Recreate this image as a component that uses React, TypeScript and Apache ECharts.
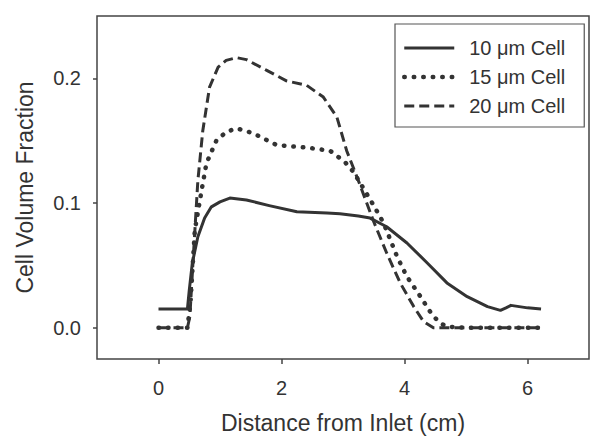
import React, { useEffect, useRef } from "react";
import * as echarts from "echarts";

const xTicks = [0, 2, 4, 6];
const yTicks = [0, 0.1, 0.2];

const seriesNames = ["10 μm Cell", "15 μm Cell", "20 μm Cell"];

const x10 = [0, 0.47, 0.5, 0.55, 0.64, 0.75, 0.86, 1.0, 1.16, 1.43, 1.8, 2.25, 2.74, 2.95, 3.25, 3.44, 3.71, 4.04, 4.37, 4.69, 5.02, 5.35, 5.56, 5.65, 5.73, 6.0, 6.22];
const y10 = [0.015, 0.015, 0.03, 0.052, 0.073, 0.088, 0.097, 0.101, 0.104, 0.1025, 0.098, 0.093, 0.092, 0.0915, 0.0896, 0.088, 0.081, 0.068, 0.052, 0.036, 0.025, 0.017, 0.014, 0.016, 0.018, 0.016, 0.015];

const x15 = [0, 0.47, 0.52, 0.59, 0.7, 0.78, 0.94, 1.1, 1.27, 1.54, 1.92, 2.41, 2.79, 3.03, 3.17, 3.33, 3.5, 3.66, 3.88, 4.04, 4.26, 4.45, 4.58, 4.69, 5.0, 5.5, 6.2];
const y15 = [0, 0, 0.02, 0.078, 0.11, 0.132, 0.15, 0.157, 0.16, 0.156, 0.1465, 0.1445, 0.142, 0.133, 0.125, 0.112, 0.098, 0.084, 0.057, 0.041, 0.025, 0.0104, 0.0037, 0.001, 0, 0, 0];

const x20 = [0, 0.47, 0.51, 0.56, 0.64, 0.72, 0.83, 0.97, 1.1, 1.27, 1.43, 1.76, 2.08, 2.41, 2.68, 2.9, 3.06, 3.25, 3.5, 3.71, 3.93, 4.15, 4.31, 4.47, 5.0, 5.5, 6.2];
const y20 = [0, 0, 0.009, 0.052, 0.118, 0.158, 0.193, 0.209, 0.2144, 0.2166, 0.215, 0.2064, 0.198, 0.1944, 0.185, 0.169, 0.142, 0.118, 0.085, 0.06, 0.036, 0.017, 0.005, 0, 0, 0, 0];

const zip = (xs: number[], ys: number[]) => xs.map((x, i) => [x, ys[i]]);

const FONT = "'Liberation Sans', Arial, sans-serif";
const INK = "#333333";

export default function App() {
  const ref = useRef<HTMLDivElement>(null);
  useEffect(() => {
    if (!ref.current) return;
    const chart = echarts.init(ref.current, undefined, { renderer: "svg" });
    const styles: any[] = [
      { type: "solid", width: 3, cap: "butt" },
      { type: [0.5, 9], width: 4.5, cap: "round" },
      { type: [10, 5], width: 3, cap: "butt" },
    ];
    const data = [zip(x10, y10), zip(x15, y15), zip(x20, y20)];
    chart.setOption({
      animation: false,
      backgroundColor: "#ffffff",
      textStyle: { fontFamily: FONT, color: INK },
      grid: {
        left: 97,
        right: 12,
        top: 16,
        bottom: 86,
        show: true,
        borderColor: "#444444",
        borderWidth: 1.5,
        backgroundColor: "transparent",
      },
      legend: {
        orient: "vertical",
        left: 395,
        top: 24,
        data: seriesNames.map((name, i) => ({
          name,
          lineStyle: { width: styles[i].width, type: styles[i].type, cap: styles[i].cap },
        })),
        itemWidth: 50,
        itemHeight: 20,
        itemGap: 9,
        padding: [14, 19, 11, 7],
        borderColor: "#555555",
        borderWidth: 1.2,
        backgroundColor: "#ffffff",
        itemStyle: { opacity: 0 },
        textStyle: { fontFamily: FONT, fontSize: 20, color: INK, padding: [0, 0, 0, 10] },
        selectedMode: false,
      },
      xAxis: {
        type: "value",
        min: -1,
        max: 7,
        name: "Distance from Inlet (cm)",
        nameLocation: "middle",
        nameGap: 52,
        nameTextStyle: { fontFamily: FONT, fontSize: 23, color: INK },
        axisLine: { show: false, onZero: false },
        splitLine: { show: false },
        axisTick: { show: true, length: 5, customValues: xTicks, lineStyle: { color: "#444444", width: 1.5 } },
        axisLabel: {
          customValues: xTicks,
          margin: 19,
          fontFamily: FONT,
          fontSize: 20,
          color: INK,
          formatter: (v: number) => String(v),
        },
      },
      yAxis: {
        type: "value",
        min: -0.025,
        max: 0.25,
        name: "Cell Volume Fraction",
        nameLocation: "middle",
        nameGap: 61,
        nameTextStyle: { fontFamily: FONT, fontSize: 23, color: INK },
        axisLine: { show: false, onZero: false },
        splitLine: { show: false },
        axisTick: { show: true, length: 4, customValues: yTicks, lineStyle: { color: "#444444", width: 1.5 } },
        axisLabel: {
          customValues: yTicks,
          margin: 16,
          fontFamily: FONT,
          fontSize: 20,
          color: INK,
          formatter: (v: number) => v.toFixed(1),
        },
      },
      series: seriesNames.map((name, i) => ({
        name,
        type: "line",
        data: data[i],
        showSymbol: false,
        symbol: "none",
        lineStyle: { color: INK, width: styles[i].width, type: styles[i].type, cap: styles[i].cap, join: "round" },
        itemStyle: { color: INK },
      })),
    });
    return () => chart.dispose();
  }, []);
  return (
    <div
      ref={ref}
      style={{ position: "fixed", left: 0, top: 0, width: 601, height: 445, background: "#fff" }}
    />
  );
}
